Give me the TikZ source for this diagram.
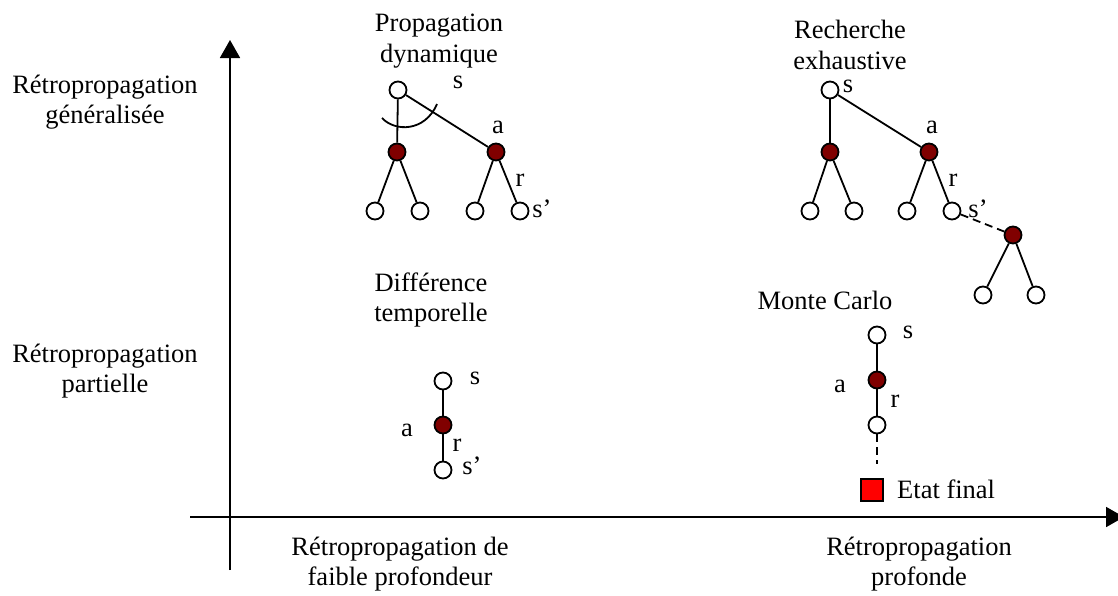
\documentclass[tikz,border=0pt]{standalone}
\usepackage{fontspec}
\setmainfont{Liberation Serif}
\usetikzlibrary{arrows.meta}
\definecolor{actfill}{RGB}{128,0,0}
\definecolor{endfill}{RGB}{255,0,0}
\begin{document}
\begin{tikzpicture}[x=1pt,y=-1pt,
  every node/.style={font=\fontsize{26.5}{30.5}\selectfont},
  lbl/.style={align=center,inner sep=0pt},
  tag/.style={inner sep=0pt,anchor=base},
  stnode/.style={circle,draw,fill=white,line width=1.8pt,minimum size=17pt,inner sep=0pt},
  acnode/.style={circle,draw,fill=actfill,line width=1.8pt,minimum size=17pt,inner sep=0pt},
  edge/.style={line width=1.8pt},
  dedge/.style={line width=1.8pt,dash pattern=on 8pt off 5pt},
  axis/.style={line width=1.8pt,-{Triangle[length=18pt,width=20pt]}}]
\useasboundingbox (0,0) rectangle (1118,595);

% axes
\coordinate (vb) at (230,570);
\coordinate (vt) at (230,40);
\coordinate (hb) at (190,517);
\coordinate (ht) at (1124,517);
\draw[axis] (vb) -- (vt);
\draw[axis] (hb) -- (ht);

% axis labels
\node[lbl] (ygen) at (105,102) {Rétropropagation\\généralisée};
\node[lbl] (ypar) at (105,371) {Rétropropagation\\partielle};
\node[lbl] (xfai) at (400,564) {Rétropropagation de\\faible profondeur};
\node[lbl] (xpro) at (919,564) {Rétropropagation\\profonde};

% dynamic programming backup
\node[lbl] (tdp) at (439,41) {Propagation\\dynamique};
\node[stnode] (p0) at (398,90) {};
\node[acnode] (pa1) at (397,152) {};
\node[acnode] (pa2) at (496,152) {};
\node[stnode] (pl1) at (375,211) {};
\node[stnode] (pl2) at (420,211) {};
\node[stnode] (pl3) at (475,211) {};
\node[stnode] (pl4) at (520,211) {};
\draw[edge] (p0) -- (pa1);
\draw[edge] (p0) -- (pa2);
\draw[edge] (pa1) -- (pl1);
\draw[edge] (pa1) -- (pl2);
\draw[edge] (pa2) -- (pl3);
\draw[edge] (pa2) -- (pl4);
\coordinate (arcA) at (382,118);
\coordinate (arcB) at (437,104);
\draw[edge] (arcA) .. controls (395,132) and (425,132) .. (arcB);
\node[tag] (ps) at (458,88) {s};
\node[tag] (pa) at (498,133) {a};
\node[tag] (pr) at (520,186) {r};
\node[tag] (psp) at (542,217) {s’};

% exhaustive search
\node[lbl] (tex) at (850,45) {Recherche\\exhaustive};
\node[stnode] (e0) at (830,90) {};
\node[acnode] (ea1) at (830,152) {};
\node[acnode] (ea2) at (929,152) {};
\node[stnode] (el1) at (810,211) {};
\node[stnode] (el2) at (854,211) {};
\node[stnode] (el3) at (907,211) {};
\node[stnode] (el4) at (952,211) {};
\node[acnode] (ea3) at (1013,235) {};
\node[stnode] (el5) at (983,295) {};
\node[stnode] (el6) at (1036,295) {};
\draw[edge] (e0) -- (ea1);
\draw[edge] (e0) -- (ea2);
\draw[edge] (ea1) -- (el1);
\draw[edge] (ea1) -- (el2);
\draw[edge] (ea2) -- (el3);
\draw[edge] (ea2) -- (el4);
\draw[dedge] (el4) -- (ea3);
\draw[edge] (ea3) -- (el5);
\draw[edge] (ea3) -- (el6);
\node[tag] (es) at (848,92) {s};
\node[tag] (ea) at (932,133) {a};
\node[tag] (er) at (953,186) {r};
\node[tag] (esp) at (978,217) {s’};

% temporal difference
\node[lbl] (ttd) at (431,300) {Différence\\temporelle};
\node[stnode] (t0) at (443,381) {};
\node[acnode] (ta) at (443,425) {};
\node[stnode] (t1) at (443,470) {};
\draw[edge] (t0) -- (ta);
\draw[edge] (ta) -- (t1);
\node[tag] (tsl) at (475,384) {s};
\node[tag] (tal) at (407,436) {a};
\node[tag] (trl) at (457,451) {r};
\node[tag] (tspl) at (472,474) {s’};

% Monte Carlo
\node[lbl] (tmc) at (825,300) {Monte Carlo};
\node[stnode] (m0) at (877,335) {};
\node[acnode] (ma) at (877,380) {};
\node[stnode] (m1) at (877,425) {};
\coordinate (mend) at (877,464);
\draw[edge] (m0) -- (ma);
\draw[edge] (ma) -- (m1);
\draw[dedge] (m1) -- (mend);
\node[tag] (msl) at (908,338) {s};
\node[tag] (mal) at (840,392) {a};
\node[tag] (mrl) at (895,407) {r};
\node[draw,fill=endfill,line width=1.6pt,minimum size=22pt,inner sep=0pt] (fin) at (872,490) {};
\node[inner sep=0pt,anchor=west] (finl) at (897,489) {Etat final};
\end{tikzpicture}
\end{document}
